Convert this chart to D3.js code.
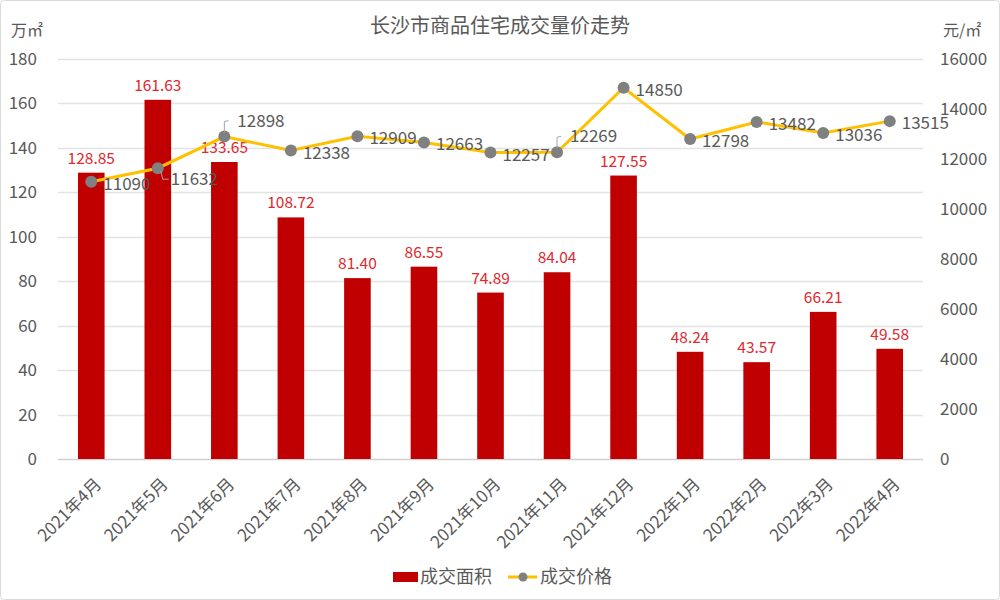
<!DOCTYPE html>
<html>
<head>
<meta charset="utf-8">
<script src="https://cdn.jsdelivr.net/npm/d3@7"></script>
<style>
body{margin:0;background:#fff;}
text{font-family:"Noto Sans CJK SC","Noto Sans",sans-serif;}
</style>
</head>
<body>
<svg id="chart"></svg>
<script>
var months = ["2021年4月","2021年5月","2021年6月","2021年7月","2021年8月","2021年9月","2021年10月","2021年11月","2021年12月","2022年1月","2022年2月","2022年3月","2022年4月"];
var area = [128.85,161.63,133.65,108.72,81.40,86.55,74.89,84.04,127.55,48.24,43.57,66.21,49.58];
var price = [11090,11632,12898,12338,12909,12663,12257,12269,14850,12798,13482,13036,13515];
var leftTicks = [0,20,40,60,80,100,120,140,160,180];
var rightTicks = [0,2000,4000,6000,8000,10000,12000,14000,16000];

var screen = {width:1000, height:600};
var margins = {top:59,bottom:141,left:58,right:77};
var graph = {
    width:screen.width-margins.left-margins.right,
    height:screen.height-margins.top-margins.bottom
};

var svg = d3.select("#chart")
    .attr("width",screen.width)
    .attr("height",screen.height);

svg.append("rect")
    .attr("x",0.5).attr("y",0.5)
    .attr("width",screen.width-1).attr("height",screen.height-1)
    .attr("rx",4)
    .attr("fill","#fff").attr("stroke","#d9d9d9");

var xScale = d3.scaleBand()
    .domain(months)
    .range([0,graph.width])
    .paddingInner(0.6)
    .paddingOuter(0.3);

var yLeft = d3.scaleLinear().domain([0,180]).range([graph.height,0]);
var yRight = d3.scaleLinear().domain([0,16000]).range([graph.height,0]);

var g = svg.append("g")
    .attr("transform","translate("+margins.left+","+margins.top+")");

// gridlines
g.append("g").selectAll("line")
    .data(leftTicks)
    .enter().append("line")
    .attr("x1",0).attr("x2",graph.width)
    .attr("y1",function(d){return Math.round(yLeft(d))+0.5;})
    .attr("y2",function(d){return Math.round(yLeft(d))+0.5;})
    .attr("stroke",function(d){return d==0?"#d0d0d0":"#e3e3e3";})
    .attr("stroke-width",1.3);

// left axis
var leftAxis = g.append("g")
    .call(d3.axisLeft(yLeft).tickValues(leftTicks).tickSize(0).tickPadding(21));
leftAxis.select(".domain").remove();
leftAxis.selectAll("text").attr("fill","#595959").style("font-size","17px");

// right axis
var rightAxis = g.append("g")
    .attr("transform","translate("+graph.width+",0)")
    .call(d3.axisRight(yRight).tickValues(rightTicks).tickFormat(d3.format("d")).tickSize(0).tickPadding(17));
rightAxis.select(".domain").remove();
rightAxis.selectAll("text").attr("fill","#595959").style("font-size","17px");

// x axis labels
var xAxis = g.append("g")
    .attr("transform","translate(0,"+graph.height+")")
    .call(d3.axisBottom(xScale).tickSize(0).tickPadding(0));
xAxis.select(".domain").remove();
xAxis.selectAll("text")
    .attr("fill","#595959")
    .style("font-size","17px")
    .attr("text-anchor","end")
    .attr("dy","0.35em")
    .attr("transform","translate(7,22) rotate(-45)");

// bars
g.selectAll("rect.bar")
    .data(area)
    .enter().append("rect")
    .attr("class","bar")
    .attr("x",function(d,i){return xScale(months[i]);})
    .attr("y",function(d){return yLeft(d);})
    .attr("width",xScale.bandwidth())
    .attr("height",function(d){return graph.height-yLeft(d);})
    .attr("fill","#c00000");

g.selectAll("text.barlabel")
    .data(area)
    .enter().append("text")
    .attr("class","barlabel")
    .attr("x",function(d,i){return xScale(months[i])+xScale.bandwidth()/2;})
    .attr("y",function(d){return yLeft(d)-9;})
    .attr("text-anchor","middle")
    .attr("fill","#e0282e")
    .style("font-size","15.5px")
    .text(function(d){return d.toFixed(2);});

// price line
var cx = function(i){return xScale(months[i])+xScale.bandwidth()/2;};
var line = d3.line()
    .x(function(d,i){return cx(i);})
    .y(function(d){return yRight(d);});

g.append("path")
    .datum(price)
    .attr("d",line)
    .attr("fill","none")
    .attr("stroke","#ffc000")
    .attr("stroke-width",3);

g.selectAll("circle.pt")
    .data(price)
    .enter().append("circle")
    .attr("class","pt")
    .attr("cx",function(d,i){return cx(i);})
    .attr("cy",function(d){return yRight(d);})
    .attr("r",6)
    .attr("fill","#808080");

// price labels: most to the right, a few with leader lines
var lead = {1:"down",2:"up",7:"up"};
var labels = g.selectAll("g.plabel")
    .data(price)
    .enter().append("g")
    .attr("class","plabel")
    .attr("transform",function(d,i){return "translate("+cx(i)+","+yRight(d)+")";});

labels.append("text")
    .attr("x",function(d,i){return lead[i]?13:12;})
    .attr("y",function(d,i){
        if(lead[i]=="down") return 11;
        if(lead[i]=="up") return -16;
        return 2;
    })
    .attr("dy","0.35em")
    .attr("fill","#595959")
    .style("font-size","17px")
    .text(function(d){return d;});

labels.filter(function(d,i){return lead[i];})
    .append("path")
    .attr("d",function(d){
        var j = price.indexOf(d);
        if(lead[j]=="down") return "M3,3 L5,11 L11,11";
        return "M0,-4 L0,-15 L4,-16";
    })
    .attr("fill","none")
    .attr("stroke","#a6a6a6")
    .attr("stroke-width",1);

// title and unit labels
svg.append("text")
    .attr("x",500).attr("y",33)
    .attr("text-anchor","middle")
    .attr("fill","#595959")
    .style("font-size","20px")
    .text("长沙市商品住宅成交量价走势");

svg.append("text")
    .attr("x",11).attr("y",36)
    .attr("fill","#595959")
    .style("font-size","16px")
    .text("万㎡");

svg.append("text")
    .attr("x",943).attr("y",36)
    .attr("fill","#595959")
    .style("font-size","16px")
    .text("元/㎡");

// legend
var legend = svg.append("g").attr("transform","translate(0,577)");
legend.append("rect")
    .attr("x",393).attr("y",-5)
    .attr("width",25).attr("height",10)
    .attr("fill","#c00000");
legend.append("text")
    .attr("x",420).attr("y",0).attr("dy","0.35em")
    .attr("fill","#595959").style("font-size","18px")
    .text("成交面积");
legend.append("line")
    .attr("x1",508).attr("x2",537)
    .attr("y1",0).attr("y2",0)
    .attr("stroke","#ffc000").attr("stroke-width",3);
legend.append("circle")
    .attr("cx",523).attr("cy",0).attr("r",4.5)
    .attr("fill","#808080");
legend.append("text")
    .attr("x",540).attr("y",0).attr("dy","0.35em")
    .attr("fill","#595959").style("font-size","18px")
    .text("成交价格");
</script>
</body>
</html>
